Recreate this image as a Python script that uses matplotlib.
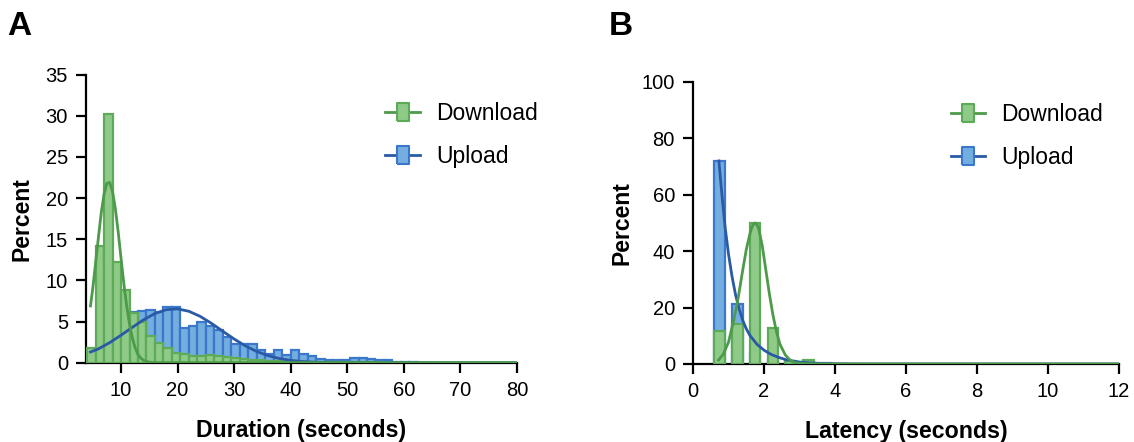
import numpy as np
import matplotlib
matplotlib.use('Agg')
import matplotlib.pyplot as plt
from matplotlib.lines import Line2D

plt.rcParams['font.family'] = ['Liberation Sans', 'DejaVu Sans']

# Panel A: duration histograms (percent per 1.5 s bin, first bin starts at 4 s)
dur_bin_start = 4.0
dur_bin_width = 1.5
dur_download = [1.8, 14.2, 30.2, 12.2, 8.8, 6.1, 4.9, 3.3, 2.4, 1.8, 1.2, 1.0, 0.8, 0.8,
                0.9, 0.8, 0.65, 0.55, 0.45, 0.35, 0.3, 0.25, 0.2, 0.2, 0.15, 0.1, 0.1,
                0.1, 0.05, 0.05, 0.05, 0.05, 0.05, 0.05, 0.05, 0.0, 0.0, 0.0, 0.0, 0.0]
dur_upload = [0.5, 0.8, 1.3, 2.2, 3.6, 6.2, 6.3, 6.4, 6.2, 6.8, 6.8, 4.2, 4.4, 5.0,
              4.4, 4.0, 3.1, 2.3, 2.3, 2.3, 1.6, 1.1, 1.6, 0.9, 1.6, 1.0, 0.8, 0.5,
              0.35, 0.35, 0.35, 0.55, 0.55, 0.5, 0.35, 0.3, 0.05, 0.05, 0.05, 0.0]

# fitted curves
dur_fit_dl_x = [4.6, 5.0, 5.5, 6.0, 6.5, 7.0, 7.5, 8.0, 8.5, 9.0, 9.5, 10.0, 10.5, 11.0,
                11.5, 12.0, 12.5, 13.0, 13.5, 14.0, 15.0, 16.0, 80.0]
dur_fit_dl_y = [6.9, 9.0, 12.1, 15.2, 18.2, 20.5, 21.8, 21.9, 20.8, 18.7, 15.9, 12.7, 9.6, 6.9,
                4.7, 3.0, 1.8, 1.0, 0.55, 0.28, 0.06, 0.01, 0.0]
dur_fit_ul_x = [4.6, 6, 8, 10, 12, 14, 16, 18, 20, 22, 24, 26, 28, 30, 32, 34, 36, 38, 40,
                42, 44, 46, 48, 50, 80]
dur_fit_ul_y = [1.3, 1.68, 2.44, 3.34, 4.3, 5.22, 5.98, 6.44, 6.54, 6.25, 5.63, 4.78, 3.82,
                2.88, 2.04, 1.36, 0.86, 0.51, 0.28, 0.15, 0.07, 0.03, 0.01, 0.0, 0.0]

# Panel B: latency histograms (percent per 0.5 s bin)
lat_centers = [0.75, 1.25, 1.75, 2.25, 2.75, 3.25, 3.75]
lat_download = [11.6, 14.3, 50.0, 12.8, 1.2, 1.3, 0.35]
lat_upload = [72.0, 21.4, 4.0, 1.5, 0.6, 0.4, 0.1]

lat_fit_dl_x = [0.72, 0.85, 1.0, 1.12, 1.25, 1.4, 1.5, 1.6, 1.65, 1.7, 1.75, 1.8, 1.85, 1.95,
                2.05, 2.15, 2.25, 2.35, 2.45, 2.6, 2.75, 2.9, 3.1, 3.4, 3.8, 12.0]
lat_fit_dl_y = [1.4, 3.4, 7.7, 14.0, 21.7, 33.2, 40.5, 46.0, 48.2, 49.5, 50.0, 49.4, 48.0, 42.0,
                33.5, 25.0, 17.5, 11.5, 7.0, 3.2, 1.2, 0.4, 0.15, 0.05, 0.0, 0.0]
lat_fit_ul_x = [0.73, 0.8, 0.9, 1.0, 1.1, 1.2, 1.3, 1.4, 1.5, 1.6, 1.8, 2.0, 2.2, 2.4, 2.6,
                2.8, 3.0, 3.3, 3.6, 4.0, 4.5, 5.0, 12.0]
lat_fit_ul_y = [72.0, 62.0, 49.0, 39.0, 31.0, 24.5, 19.5, 15.5, 12.5, 10.2, 7.0, 4.9, 3.4,
                2.4, 1.6, 1.1, 0.7, 0.4, 0.2, 0.08, 0.02, 0.0, 0.0]

# colours
green_fill, green_edge, green_line = '#8fca88', '#5dab59', '#4c9a4a'
blue_fill, blue_edge, blue_line = '#74aee0', '#3b78cc', '#2a5aa6'

fig = plt.figure(figsize=(11.34, 4.42), dpi=100)
axA = fig.add_axes([0.0758, 0.1794, 0.380, 0.6516])
axB = fig.add_axes([0.6111, 0.1765, 0.3757, 0.638])


def style(ax):
    for s in ['top', 'right']:
        ax.spines[s].set_visible(False)
    for s in ['left', 'bottom']:
        ax.spines[s].set_linewidth(1.6)
    ax.tick_params(width=1.6, length=7, pad=6, labelsize=14.5, direction='out')


# Panel A
nA = len(dur_download)
lefts = dur_bin_start + dur_bin_width * np.arange(nA)
axA.bar(lefts, dur_upload, width=dur_bin_width, align='edge', color=blue_fill,
        edgecolor=blue_edge, linewidth=1.6, zorder=2)
axA.bar(lefts, dur_download, width=dur_bin_width, align='edge', color=green_fill,
        edgecolor=green_edge, linewidth=1.6, zorder=3)
axA.plot(dur_fit_ul_x, dur_fit_ul_y, color=blue_line, lw=2.0, zorder=4)
axA.plot(dur_fit_dl_x, dur_fit_dl_y, color=green_line, lw=2.0, zorder=5)
axA.set_xlim(3.8, 80)
axA.set_ylim(0, 35)
axA.set_xticks(range(10, 81, 10))
axA.set_yticks(range(0, 36, 5))
axA.set_xlabel('Duration (seconds)', fontsize=16.7, fontweight='bold', labelpad=14)
axA.set_ylabel('Percent', fontsize=16.5, fontweight='bold', labelpad=9)
style(axA)

# Panel B
axB.bar(lat_centers, lat_upload, width=0.3, color=blue_fill, edgecolor=blue_edge,
        linewidth=1.6, zorder=2)
axB.bar(lat_centers, lat_download, width=0.3, color=green_fill, edgecolor=green_edge,
        linewidth=1.6, zorder=3)
axB.plot(lat_fit_ul_x, lat_fit_ul_y, color=blue_line, lw=2.0, zorder=4)
axB.plot(lat_fit_dl_x, lat_fit_dl_y, color=green_line, lw=2.0, zorder=5)
axB.set_xlim(0, 12)
axB.set_ylim(0, 100)
axB.set_xticks(range(0, 13, 2))
axB.set_yticks(range(0, 101, 20))
axB.set_xlabel('Latency (seconds)', fontsize=16.7, fontweight='bold', labelpad=14)
axB.set_ylabel('Percent', fontsize=16.5, fontweight='bold', labelpad=6)
style(axB)

# legends
rect = [(-0.3, -0.5), (0.3, -0.5), (0.3, 0.5), (-0.3, 0.5), (-0.3, -0.5)]
handles = [
    Line2D([0], [0], color=green_line, lw=2, marker=rect, markersize=13.5,
           markerfacecolor=green_fill, markeredgecolor=green_edge, markeredgewidth=1.5),
    Line2D([0], [0], color=blue_line, lw=2, marker=rect, markersize=13.5,
           markerfacecolor=blue_fill, markeredgecolor=blue_edge, markeredgewidth=1.5),
]
for ax, anchor in [(axA, (0.695, 0.905)), (axB, (0.605, 0.925))]:
    ax.legend(handles, ['Download', 'Upload'], loc='upper left', bbox_to_anchor=anchor,
              frameon=False, fontsize=16.5, handlelength=1.5, handletextpad=0.7,
              labelspacing=0.85, borderpad=0, borderaxespad=0)

fig.text(0.006, 0.975, 'A', fontsize=24, fontweight='bold', va='top')
fig.text(0.537, 0.975, 'B', fontsize=24, fontweight='bold', va='top')

plt.savefig('out.png', dpi=100)
